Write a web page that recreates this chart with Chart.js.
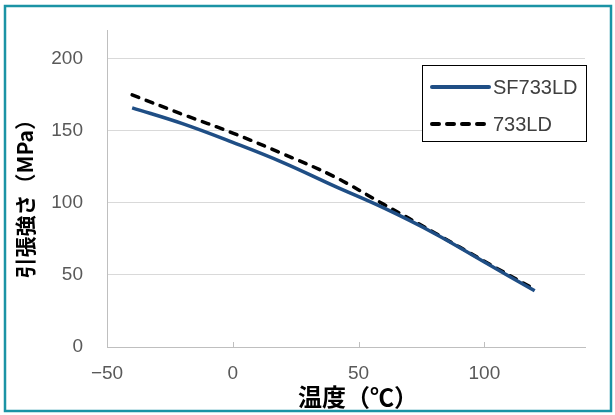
<!DOCTYPE html>
<html>
<head>
<meta charset="utf-8">
<script src="https://cdn.jsdelivr.net/npm/chart.js@4/dist/chart.umd.min.js"></script>
<style>
  body { margin: 0; background: #fff; }
  #wrap { width: 615px; height: 415px; }
</style>
</head>
<body>
<div id="wrap"><canvas id="myChart" width="615" height="415"></canvas></div>
<script>
// dados
var temps = [-40, -20, 0, 20, 40, 60, 80, 100, 120];
var sf733ld = [166, 155, 142, 128, 112, 96.5, 79, 59, 39];
var ld733 = [175, 161.5, 148.5, 134, 118.5, 99, 79.5, 59.5, 40];
var seriesNames = ['SF733LD', '733LD'];
var xTicks = [-50, 0, 50, 100];
var yTicks = [0, 50, 100, 150, 200];

function pts(ys) {
    return temps.map(function (t, i) { return { x: t, y: ys[i] }; });
}

var tickFont = { family: 'Liberation Sans', size: 19 };

// moldura, marcas do eixo x e legenda com caixa
var extras = {
    id: 'extras',
    afterDraw: function (chart) {
        var ctx = chart.ctx;
        var ca = chart.chartArea;
        var xs = chart.scales.x;
        ctx.save();
        // marcas internas do eixo x
        ctx.strokeStyle = '#bfbfbf';
        ctx.lineWidth = 1;
        xTicks.forEach(function (v) {
            if (v === xs.min) return;
            var px = Math.round(xs.getPixelForValue(v)) + 0.5;
            ctx.beginPath();
            ctx.moveTo(px, ca.bottom);
            ctx.lineTo(px, ca.bottom - 5);
            ctx.stroke();
        });
        // caixa da legenda
        var bx = 422, by = 65, bw = 164, bh = 76;
        ctx.fillStyle = '#fff';
        ctx.fillRect(bx, by, bw, bh);
        ctx.strokeStyle = '#000';
        ctx.lineWidth = 1;
        ctx.strokeRect(bx + 0.5, by + 0.5, bw, bh);
        chart.data.datasets.forEach(function (ds, i) {
            var ly = by + 22 + i * 37;
            ctx.strokeStyle = ds.borderColor;
            ctx.lineWidth = ds.borderWidth + 0.5;
            ctx.lineCap = 'round';
            ctx.setLineDash(ds.borderDash || []);
            ctx.beginPath();
            ctx.moveTo(bx + 10, ly);
            ctx.lineTo(bx + 67, ly);
            ctx.stroke();
            ctx.setLineDash([]);
            ctx.fillStyle = '#404040';
            ctx.font = '20px "Liberation Sans"';
            ctx.textBaseline = 'middle';
            ctx.textAlign = 'left';
            ctx.fillText(ds.label, bx + 71, ly + 1);
        });
        // moldura azul
        ctx.strokeStyle = '#1b93a5';
        ctx.lineWidth = 2.5;
        ctx.strokeRect(5, 6, 606, 405);
        ctx.restore();
    }
};

var data = {
    datasets: [{
        label: seriesNames[0],
        data: pts(sf733ld),
        borderColor: '#1f4e85',
        borderWidth: 3.5,
        showLine: true,
        pointRadius: 0,
        tension: 0.4
    }, {
        label: seriesNames[1],
        data: pts(ld733),
        borderColor: '#000000',
        borderWidth: 3.5,
        borderDash: [7, 8],
        borderCapStyle: 'round',
        showLine: true,
        pointRadius: 0,
        tension: 0.4
    }]
};

var options = {
    responsive: false,
    animation: false,
    layout: { padding: { top: 30, right: 30, left: 0, bottom: 0 } },
    plugins: { legend: { display: false }, tooltip: { enabled: false } },
    scales: {
        x: {
            type: 'linear',
            min: -50,
            max: 140,
            afterBuildTicks: function (s) { s.ticks = xTicks.map(function (v) { return { value: v }; }); },
            afterFit: function (s) { s.height = 68; s.paddingLeft = 0; s.paddingRight = 0; },
            grid: { drawOnChartArea: false, drawTicks: false },
            border: { color: '#bfbfbf' },
            ticks: {
                padding: 15,
                color: '#595959',
                font: tickFont,
                maxRotation: 0,
                callback: function (v) { return String(v).replace('-', '\u2212'); }
            },
            // espaco ideografico no inicio: o titulo original fica um pouco a direita
            title: { display: true, text: '\u3000温度（℃）', color: '#000', font: { family: 'Noto Sans CJK JP', size: 24, weight: 'bold' }, padding: { top: 0, bottom: 4 } }
        },
        y: {
            min: 0,
            max: 220,
            afterBuildTicks: function (s) { s.ticks = yTicks.map(function (v) { return { value: v }; }); },
            // sem isso o padding dos rotulos empurra o topo para baixo
            afterFit: function (s) { s.width = 107; s.paddingTop = 0; s.paddingBottom = 0; },
            grid: { color: '#d9d9d9', drawTicks: false },
            border: { color: '#bfbfbf' },
            ticks: { padding: 24, color: '#595959', font: tickFont },
            title: { display: true, text: '引張強さ（MPa）\u3000', color: '#000', font: { family: 'Noto Sans CJK JP', size: 21, weight: 'bold' }, padding: { top: 12, bottom: 0 } }
        }
    }
};

var ctx = document.getElementById('myChart').getContext('2d');
var myChart = new Chart(ctx, {
    type: 'scatter',
    data: data,
    options: options,
    plugins: [extras]
});
</script>
</body>
</html>
